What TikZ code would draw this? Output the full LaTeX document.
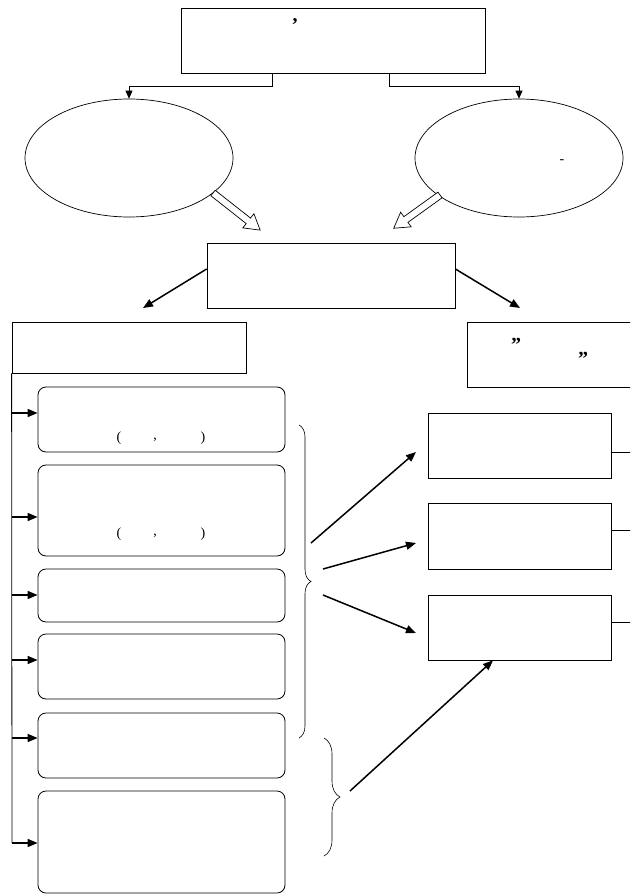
\documentclass[tikz,border=0pt]{standalone}
\usepackage{fontspec}
\setmainfont{Liberation Serif}
\usetikzlibrary{shapes.geometric,arrows.meta,decorations.pathreplacing,calc}
\begin{document}
\begin{tikzpicture}[x=1pt,y=-1pt,
  box/.style={draw, line width=0.8pt, rectangle, inner sep=0pt},
  rbox/.style={draw, line width=0.8pt, rectangle, rounded corners=8pt, inner sep=0pt, minimum width=247pt},
  ell/.style={draw, line width=0.7pt, ellipse, minimum width=208pt, minimum height=118pt, inner sep=0pt},
  thinarr/.style={line width=0.8pt, -{Triangle[length=8pt,width=7pt]}},
  arr/.style={line width=1.5pt, -{Triangle[length=10pt,width=8pt]}},
  wire/.style={line width=0.8pt},
  brc/.style={line width=0.6pt, decorate, decoration={brace, amplitude=#1}},
  hollow/.style={draw, line width=0.7pt, fill=white},
  punct/.style={inner sep=0pt, font=\fontsize{14}{16}\selectfont},
  bigpunct/.style={inner sep=0pt, font=\fontsize{20}{22}\selectfont\bfseries}]
\useasboundingbox (0,0) rectangle (630,894);
\clip (0,0) rectangle (630,894);

% top box and ellipses
\node[box, minimum width=304pt, minimum height=65pt] (top) at (333,40.5) {};
\node[bigpunct] (comma) at (295,22) {,};
\node[ell] (ellL) at (129,158) {};
\node[ell] (ellR) at (519,158) {};
\node[punct] (dash) at (562,162) {-};

\draw[thinarr] (top.south -| 272,0) |- (129,86) -- (ellL.north);
\draw[thinarr] (top.south -| 389,0) |- (519,86) -- (ellR.north);

% middle box
\node[box, minimum width=248pt, minimum height=65pt] (mid) at (331,275.5) {};

% hollow arrows
\begin{scope}[shift={(213,193)}, rotate=-38.2]
  \path[hollow] (0,-3.5) -- (45,-3.5) -- (45,-9) -- (60,0) -- (45,9) -- (45,3.5) -- (0,3.5) -- cycle;
\end{scope}
\begin{scope}[shift={(440,195)}, rotate=-144.3]
  \path[hollow] (0,-3.5) -- (42,-3.5) -- (42,-9) -- (57,0) -- (42,9) -- (42,3.5) -- (0,3.5) -- cycle;
\end{scope}

% second level boxes
\node[box, minimum width=234pt, minimum height=51pt] (lbox) at (129,347.5) {};
\node[box, minimum width=183pt, minimum height=65pt] (rbox) at (558.5,354.5) {};
\node[bigpunct] (q1) at (516,345) {”};
\node[bigpunct] (q2) at (583,359) {”};

\coordinate (ml) at (143,308);
\coordinate (mr) at (520,308);
\draw[arr] (mid.west |- 0,269) -- (ml);
\draw[arr] (mid.east |- 0,269) -- (mr);

% left rounded boxes
\node[rbox, minimum height=65pt] (b1) at (161.5,419.5) {};
\node[rbox, minimum height=91pt] (b2) at (161.5,510.5) {};
\node[rbox, minimum height=53pt] (b3) at (161.5,595.5) {};
\node[rbox, minimum height=65pt] (b4) at (161.5,666.5) {};
\node[rbox, minimum height=65pt] (b5) at (161.5,745.5) {};
\node[rbox, minimum height=102pt] (b6) at (161.5,842) {};

\node[punct] (p1a) at (119,438) {(};
\node[punct] (p1b) at (155,440) {,};
\node[punct] (p1c) at (203,438) {)};
\node[punct] (p2a) at (119,534) {(};
\node[punct] (p2b) at (155,536) {,};
\node[punct] (p2c) at (203,534) {)};

% spine
\draw[wire] (lbox.south west) -- (12,843);
\foreach \b/\y in {b1/413, b2/517, b3/595, b4/660, b5/738, b6/843}
  \draw[arr] (12,\y) -- (\b.west |- 0,\y);

% right small boxes
\node[box, minimum width=183pt, minimum height=65pt] (r1) at (519.5,445.5) {};
\node[box, minimum width=183pt, minimum height=66pt] (r2) at (519.5,536) {};
\node[box, minimum width=183pt, minimum height=65pt] (r3) at (519.5,627.5) {};
\draw[wire] (r1.east |- 0,452) -- (640,452);
\draw[wire] (r2.east |- 0,530) -- (640,530);
\draw[wire] (r3.east |- 0,622) -- (640,622);

% braces
\draw[brc=12pt] (299,425) -- (299,738);
\draw[brc=16pt] (324,738) -- (324,856);

% arrows from braces
\coordinate (s1) at (311,543);
\coordinate (s2) at (323,569);
\coordinate (s3) at (323,595);
\coordinate (s4) at (350,791);
\coordinate (t1) at (416,452);
\coordinate (t2) at (416,543);
\coordinate (t3) at (416,633);
\draw[arr] (s1) -- (t1);
\draw[arr] (s2) -- (t2);
\draw[arr] (s3) -- (t3);
\draw[arr] (s4) -- (r3.south -| 493,0);
\end{tikzpicture}
\end{document}
